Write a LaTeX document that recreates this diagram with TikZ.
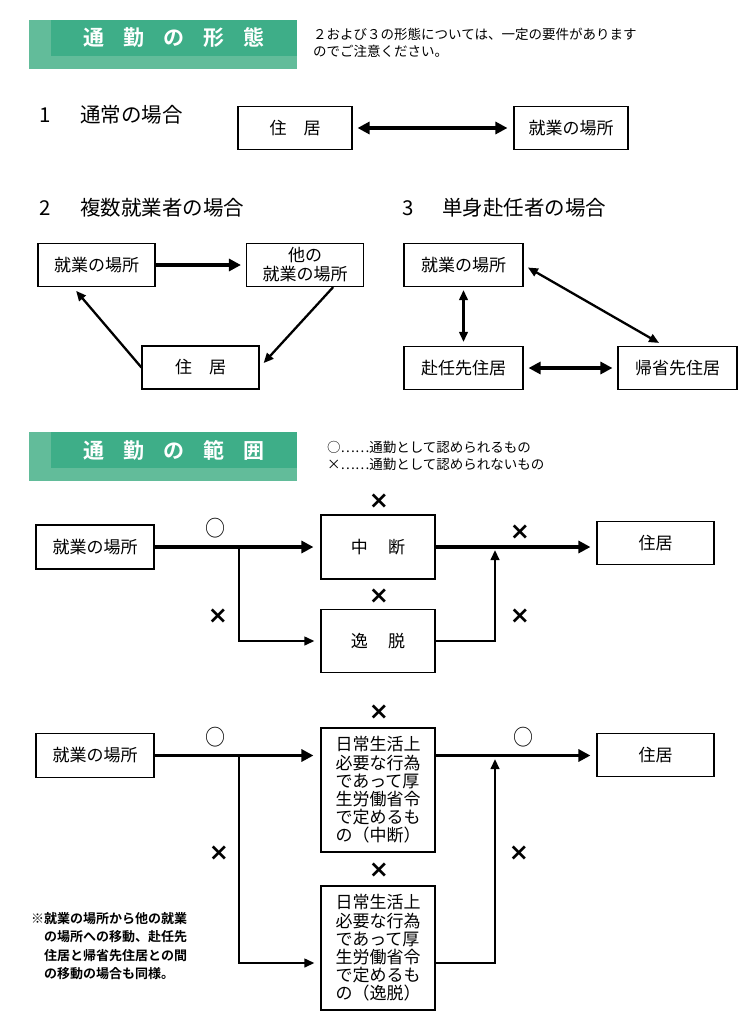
\documentclass[tikz,border=0pt]{standalone}
\usepackage{fontspec}
\setmainfont{Noto Sans CJK JP}[BoldFont={Noto Sans CJK JP Bold}]
\newfontfamily\crossfont{DejaVu Sans}
\usetikzlibrary{arrows.meta}
\definecolor{banddark}{RGB}{62,174,136}
\definecolor{bandlight}{RGB}{98,188,154}

\begin{document}
\begin{tikzpicture}[x=1pt, y=-1pt,
    place/.style={draw, line width=1.1pt, minimum width=117pt, minimum height=43pt, inner sep=0pt, font=\fontsize{17}{19}\selectfont},
    tallplace/.style={draw, line width=1.1pt, minimum width=114pt, minimum height=124pt, inner sep=0pt, align=left, font=\fontsize{17}{18.2}\selectfont},
    heading/.style={anchor=west, inner sep=0pt, font=\fontsize{20.5}{24}\selectfont},
    bandtitle/.style={text=white, inner sep=0pt, font=\fontsize{21}{24}\selectfont\bfseries},
    remark/.style={anchor=north west, inner sep=0pt, align=left, font=\fontsize{13.5}{16.5}\selectfont},
    okcircle/.style={inner sep=0pt, yscale=1.1, font=\fontsize{20}{20}\selectfont},
    ngcross/.style={inner sep=0pt, font=\fontsize{24}{24}\crossfont\bfseries},
    bigarrow/.style={line width=3.5pt, -{Triangle[length=12pt,width=12pt]}},
    bigboth/.style={line width=3.5pt, {Triangle[length=12pt,width=12pt]}-{Triangle[length=12pt,width=12pt]}},
    thinarrow/.style={line width=2.3pt, -{Triangle[length=10pt,width=8.5pt]}},
    thinboth/.style={line width=2.3pt, {Triangle[length=10pt,width=8.5pt]}-{Triangle[length=10pt,width=8.5pt]}}]
        \useasboundingbox (0,0) rectangle (751,1017);

        % Band: forms of commuting
        \fill[bandlight] (29,20) rectangle (297,69);
        \fill[banddark] (51,20) rectangle (297,56);
        \node[bandtitle] (formtitle) at (174,38) {通\hspace{19pt}勤\hspace{19pt}の\hspace{19pt}形\hspace{19pt}態};
        \node[remark] (formnote) at (313,28) {２および３の形態については、一定の要件があります\\のでご注意ください。};

        % 1 usual case
        \node[heading] (h1num) at (39,115) {1};
        \node[heading] (h1) at (80,115) {通常の場合};
        \node[place, minimum width=114pt] (home1) at (295,128) {住\hspace{1em}居};
        \node[place, minimum width=114pt] (work1) at (571,128) {就業の場所};
        \draw[bigboth, shorten <=5pt, shorten >=6pt] (home1) -- (work1);

        % 2 several workplaces
        \node[heading] (h2num) at (39,208) {2};
        \node[heading] (h2) at (80,208) {複数就業者の場合};
        \node[place] (work2) at (96.5,265) {就業の場所};
        \node[place, align=center, font=\fontsize{17}{19}\selectfont] (other2) at (305,265) {他の\\就業の場所};
        \node[place] (home2) at (200.5,367.5) {住\hspace{1em}居};
        \draw[bigarrow, shorten >=5pt] (work2) -- (other2);
        \draw[thinarrow, shorten >=6pt] (other2.-38) -- (home2.east);
        \draw[thinarrow, shorten >=5pt] (home2.west) -- (work2.-137);

        % 3 living away from family
        \node[heading] (h3num) at (402,208) {3};
        \node[heading] (h3) at (442,208) {単身赴任者の場合};
        \node[place, minimum width=119pt] (work3) at (463.5,265) {就業の場所};
        \node[place, minimum width=119pt] (away3) at (463.5,368) {赴任先住居};
        \node[place, minimum width=119pt] (home3) at (677.5,368) {帰省先住居};
        \draw[thinboth, shorten <=3pt, shorten >=4pt] (work3) -- (away3);
        \draw[thinboth, shorten <=5pt, shorten >=6pt] (work3.east) -- (home3.121);
        \draw[bigboth, shorten <=5pt, shorten >=5pt] (away3) -- (home3);

        % Band: range of commuting
        \fill[bandlight] (29,432) rectangle (297,481);
        \fill[banddark] (51,432) rectangle (297,468);
        \node[bandtitle] (rangetitle) at (174,450) {通\hspace{19pt}勤\hspace{19pt}の\hspace{19pt}範\hspace{19pt}囲};
        \node[remark] (legend) at (327,441) {○……通勤として認められるもの\\×……通勤として認められないもの};

        % Break and detour
        \node[place, minimum width=118pt, minimum height=44pt] (workA) at (95,547) {就業の場所};
        \node[place, minimum width=114pt, minimum height=64pt] (breakA) at (378,547) {中\hspace{1.2em}断};
        \node[place, minimum width=114pt, minimum height=63pt] (leaveA) at (378,641) {逸\hspace{1.2em}脱};
        \node[place] (homeA) at (655.5,543) {住居};
        \coordinate (forkA) at (239,547);
        \coordinate (joinA) at (495,550);
        \draw[bigarrow, shorten >=7pt] (workA) -- (breakA);
        \draw[bigarrow, shorten >=6pt] (breakA.east) -- (breakA.east -| homeA.west);
        \draw[thinarrow, shorten >=6pt] (forkA) |- (leaveA.west);
        \draw[thinarrow] (leaveA.east) -| (joinA);
        \node[okcircle] (okA1) at (215,528) {○};
        \foreach \x/\y [count=\i] in {379/501, 520/532, 379/596, 218/616, 520/616}
            \node[ngcross] (ngA\i) at (\x,\y) {×};

        % Daily necessities
        \node[place, minimum width=118pt, minimum height=44pt] (workB) at (95,755.5) {就業の場所};
        \node[tallplace] (breakB) at (378,790) {日常生活上\\必要な行為\\であって厚\\生労働省令\\で定めるも\\の（中断）};
        \node[tallplace] (leaveB) at (378,948) {日常生活上\\必要な行為\\であって厚\\生労働省令\\で定めるも\\の（逸脱）};
        \node[place] (homeB) at (655.5,755) {住居};
        \coordinate (forkB) at (239,755.5);
        \coordinate (joinB) at (495,759);
        \draw[bigarrow, shorten >=7pt] (workB.east) -- (workB.east -| breakB.west);
        \draw[bigarrow, shorten >=6pt] (breakB.east |- workB.east) -- (homeB.west |- workB.east);
        \draw[thinarrow, shorten >=6pt] (forkB) |- ([yshift=-15pt]leaveB.west);
        \draw[thinarrow] ([yshift=-15pt]leaveB.east) -| (joinB);
        \node[okcircle] (okB1) at (215,737) {○};
        \node[okcircle] (okB2) at (523,737) {○};
        \foreach \x/\y [count=\i] in {379/712, 219/853, 379/870, 519/853}
            \node[ngcross] (ngB\i) at (\x,\y) {×};

        % Remark
        \node[remark, font=\fontsize{13}{18.5}\selectfont\bfseries] (samenote) at (31,912) {※就業の場所から他の就業\\\hspace*{1em}の場所への移動、赴任先\\\hspace*{1em}住居と帰省先住居との間\\\hspace*{1em}の移動の場合も同様。};

        \end{tikzpicture}
\end{document}
